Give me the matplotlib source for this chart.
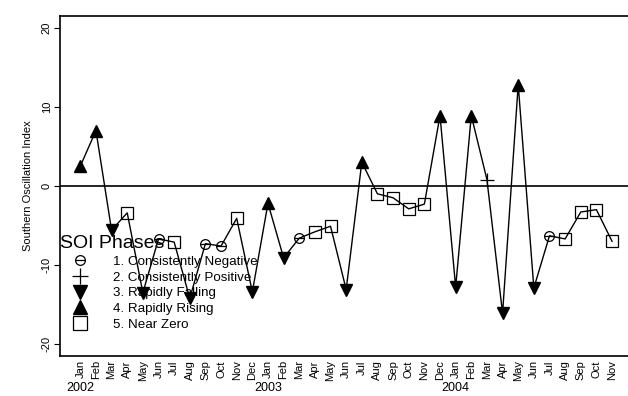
import matplotlib
matplotlib.use("Agg")
import matplotlib.pyplot as plt
from matplotlib.lines import Line2D
from matplotlib.legend_handler import HandlerTuple

plt.rcParams["font.family"] = ["Liberation Sans", "DejaVu Sans"]

months = ["Jan", "Feb", "Mar", "Apr", "May", "Jun", "Jul", "Aug", "Sep", "Oct", "Nov", "Dec"]
labels = (months + months + months[:11])
years = ["2002", "2003", "2004"]

soi = [2.5, 7.0, -5.6, -3.4, -13.5, -6.7, -7.1, -14.2, -7.3, -7.6, -4.1, -13.4,
       -2.2, -9.1, -6.6, -5.8, -5.1, -13.1, 3.0, -1.0, -1.5, -2.9, -2.3, 8.9,
       -12.8, 8.9, 0.8, -16.1, 12.8, -12.9, -6.3, -6.7, -3.3, -3.0, -7.0]

# 1 neg, 2 pos, 3 falling, 4 rising, 5 near zero
phase = [4, 4, 3, 5, 3, 1, 5, 3, 1, 1, 5, 3,
         4, 3, 1, 5, 5, 3, 4, 5, 5, 5, 5, 4,
         3, 4, 2, 3, 4, 3, 1, 5, 5, 5, 5]

phase_names = ["1. Consistently Negative", "2. Consistently Positive",
               "3. Rapidly Falling", "4. Rapidly Rising", "5. Near Zero"]

x = list(range(len(soi)))

fig = plt.figure(figsize=(6.28, 3.96), dpi=100)
ax = fig.add_axes([0.0955, 0.101, 0.904, 0.859])

ax.axhline(0, color="black", lw=1.2, zorder=1)
ax.plot(x, soi, color="black", lw=1.0, zorder=2)

def pick(p):
    xs = [i for i in x if phase[i] == p]
    ys = [soi[i] for i in x if phase[i] == p]
    return xs, ys

xs, ys = pick(1)
ax.plot(xs, ys, "o", ms=7, mfc="none", mec="black", mew=0.9, zorder=3)
ax.plot(xs, ys, "_", ms=7, color="black", mew=0.9, zorder=3)
xs, ys = pick(2)
ax.plot(xs, ys, "+", ms=10, color="black", mew=0.9, zorder=3)
xs, ys = pick(3)
ax.plot(xs, ys, "v", ms=9, color="black", zorder=3)
xs, ys = pick(4)
ax.plot(xs, ys, "^", ms=9, color="black", zorder=3)
xs, ys = pick(5)
ax.plot(xs, ys, "s", ms=9, mfc="none", mec="black", mew=0.9, zorder=3)

h1 = (Line2D([], [], marker="o", ls="", ms=7, mfc="none", mec="black", mew=0.9),
      Line2D([], [], marker="_", ls="", ms=7, color="black", mew=0.9))
h2 = Line2D([], [], marker="+", ls="", ms=12, color="black", mew=0.9)
h3 = Line2D([], [], marker="v", ls="", ms=10, color="black")
h4 = Line2D([], [], marker="^", ls="", ms=10, color="black")
h5 = Line2D([], [], marker="s", ls="", ms=10, mfc="none", mec="black", mew=0.9)

leg = ax.legend([h1, h2, h3, h4, h5], phase_names,
                handler_map={tuple: HandlerTuple(ndivide=1, pad=0)},
                title="SOI Phases", title_fontsize=14, fontsize=9.6,
                loc="upper left", bbox_to_anchor=(0.0, 0.355),
                frameon=False, borderpad=0, borderaxespad=0,
                handlelength=3.0, handletextpad=1.0, labelspacing=0.25,
                alignment="left")
leg.set_zorder(5)

ax.set_xlim(-1.3, 35.0)
ax.set_ylim(-21.5, 21.5)
ax.set_yticks([-20, -10, 0, 10, 20])
ax.set_yticklabels(["-20", "-10", "0", "10", "20"], rotation=90, va="center", fontsize=8)
ax.set_xticks(x)
ax.set_xticklabels(labels, rotation=90, fontsize=8)
ax.tick_params(axis="x", length=0, pad=3)
ax.tick_params(axis="y", length=4, pad=2)
ax.set_ylabel("Southern Oscillation Index", fontsize=8, labelpad=6)

for k, yr in enumerate(years):
    ax.text(12 * k, -0.093, yr, transform=ax.get_xaxis_transform(),
            ha="center", va="center", fontsize=9)

ax.spines["right"].set_visible(False)
for s in ["left", "top", "bottom"]:
    ax.spines[s].set_linewidth(1.2)

fig.savefig("out.png", dpi=100)
